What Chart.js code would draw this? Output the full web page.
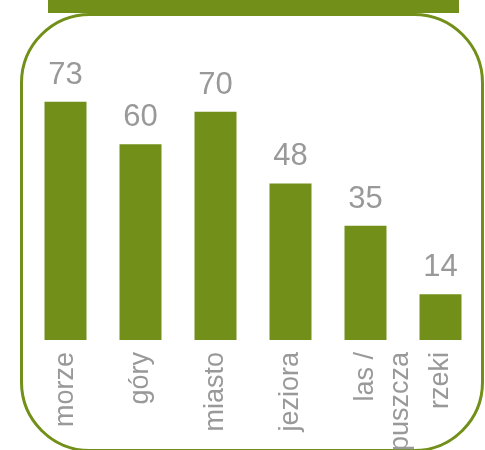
<!DOCTYPE html>
<html>
<head>
<meta charset="utf-8">
<script src="https://cdn.jsdelivr.net/npm/chart.js@4"></script>
<style>
  html, body { margin: 0; padding: 0; background: #fff; }
  #wrap { position: relative; width: 485px; height: 450px; overflow: hidden; }
  #frame {
    position: absolute; left: 20px; top: 13px; width: 464px; height: 439px;
    box-sizing: border-box; border: 3px solid #728f19; border-radius: 70px;
  }
  #topbar { position: absolute; left: 48px; top: 0; width: 411px; height: 13px; background: #728f19; }
  #chart { position: absolute; left: 0; top: 0; }
</style>
</head>
<body>
<div id="wrap">
  <div id="frame"></div>
  <div id="topbar"></div>
  <canvas id="chart" width="485" height="450"></canvas>
</div>
<script>
// data
const categories = ['morze', 'góry', 'miasto', 'jeziora', ['las /', 'puszcza'], 'rzeki'];
const values = [73, 60, 70, 48, 35, 14];
const yMax = 80;

const green = '#728f19';
const grey = '#999999';

// value labels above bars
const valueLabels = {
    id: 'valueLabels',
    afterDatasetsDraw(chart) {
        const ctx = chart.ctx;
        const meta = chart.getDatasetMeta(0);
        ctx.save();
        ctx.font = '31px "Liberation Sans", Arial, sans-serif';
        ctx.fillStyle = grey;
        ctx.textAlign = 'center';
        ctx.textBaseline = 'alphabetic';
        meta.data.forEach((bar, i) => {
            ctx.fillText(String(values[i]), bar.x, bar.y - 18);
        });
        ctx.restore();
    }
};

new Chart(document.getElementById('chart').getContext('2d'), {
    type: 'bar',
    data: {
        labels: categories,
        datasets: [{
            data: values,
            backgroundColor: green,
            borderWidth: 0,
            categoryPercentage: 1,
            barPercentage: 0.56
        }]
    },
    options: {
        responsive: false,
        animation: false,
        layout: { padding: { left: 28, right: 7, top: 79, bottom: 0 } },
        plugins: { legend: { display: false }, tooltip: { enabled: false } },
        scales: {
            x: {
                grid: { display: false, drawTicks: false },
                border: { display: false },
                ticks: {
                    minRotation: 90,
                    maxRotation: 90,
                    padding: 12,
                    color: grey,
                    font: { family: '"Liberation Sans", Arial, sans-serif', size: 27, lineHeight: 1.3 }
                },
                afterFit(scale) {
                    scale.height = 110;
                    scale.paddingLeft = 0;
                    scale.paddingRight = 0;
                }
            },
            y: {
                display: false,
                min: 0,
                max: yMax
            }
        }
    },
    plugins: [valueLabels]
});
</script>
</body>
</html>
